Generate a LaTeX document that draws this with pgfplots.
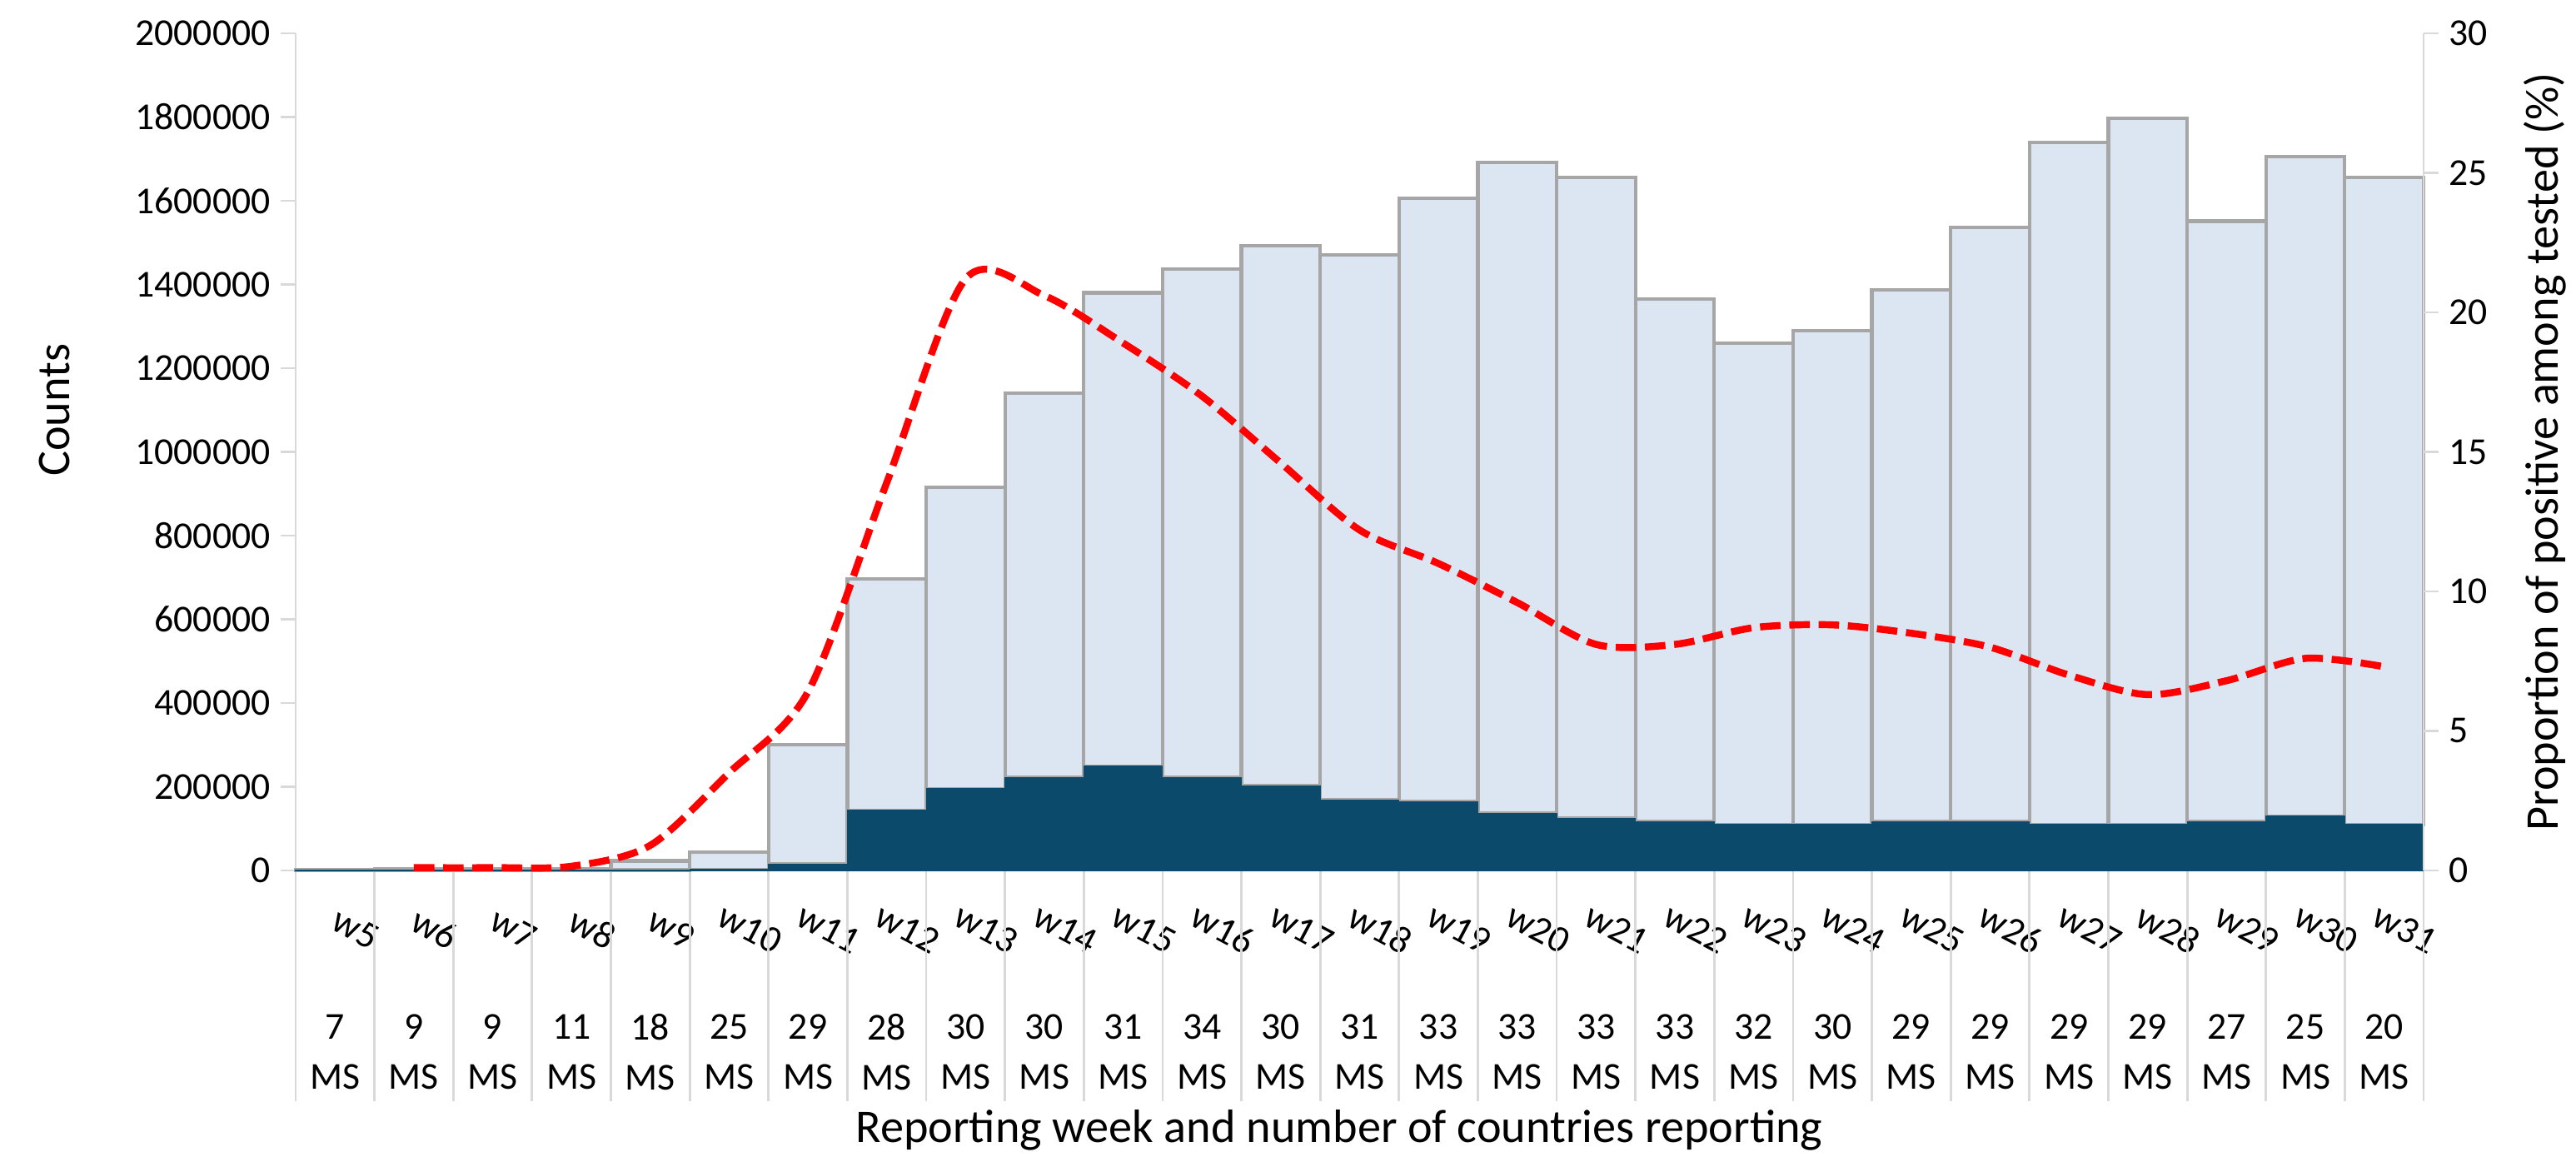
\documentclass[border=0pt]{standalone}
\usepackage{fontspec}
\setmainfont{Carlito}
\usepackage{pgfplots}
\usepackage{pgfplotstable}
\pgfplotsset{compat=1.18}

\definecolor{axisgray}{HTML}{D9D9D9}
\definecolor{bargray}{HTML}{A6A6A6}
\definecolor{lightbar}{HTML}{DCE6F2}
\definecolor{darkbar}{HTML}{0C4A6B}

% x = category index, wk = reporting week, pos = positive, tested = tested, pct = % positive
\pgfplotstableread{
x wk pos tested pct
0 5 300 2500 nan
1 6 300 3000 0.1
2 7 300 3000 0.1
3 8 400 4000 0.15
4 9 1000 23000 0.9
5 10 2000 44000 3.5
6 11 15000 300000 6.4
7 12 144000 697000 13.9
8 13 195000 915000 21.2
9 14 222000 1141000 20.6
10 15 249000 1380000 18.9
11 16 222000 1436000 17.0
12 17 202000 1493000 14.6
13 18 168000 1471000 12.2
14 19 165000 1606000 11.0
15 20 137000 1692000 9.6
16 21 125000 1656000 8.1
17 22 117000 1365000 8.1
18 23 110000 1260000 8.7
19 24 110000 1289000 8.8
20 25 117000 1387000 8.5
21 26 117000 1536000 8.0
22 27 110000 1740000 7.0
23 28 110000 1797000 6.3
24 29 117000 1551000 6.8
25 30 130000 1705000 7.6
26 31 110000 1656000 7.3
}\weekly

\pgfplotsset{
  common/.style={
    at={(3.55cm,3.56cm)}, anchor=south west,
    scale only axis, width=25.55cm, height=10.05cm,
    xmin=-0.5, xmax=26.5, ymin=0,
    axis line style={axisgray, line width=0.8pt},
    tick style={axisgray, line width=0.8pt},
    major tick length=0.18cm, tick align=outside,
    tick label style={font=\fontsize{13}{17}\selectfont, text=black},
    label style={font=\fontsize{16}{19}\selectfont},
    xtick={0,...,26},
    xtick style={draw=none},
    clip=false,
    /pgf/number format/assume math mode=true,
  }
}

\begin{document}
\begin{tikzpicture}
\path[use as bounding box] (0,0) rectangle (30.93,14.01);

\begin{axis}[common,
  ymax=2000000,
  ytick={0,200000,400000,600000,800000,1000000,1200000,1400000,1600000,1800000,2000000},
  scaled y ticks=false,
  yticklabel style={/pgf/number format/fixed, /pgf/number format/1000 sep={}},
  axis x line*=bottom, axis y line*=left,
  ylabel={Counts},
  ylabel style={at={(axis description cs:-0.1135,0.55)}, anchor=center},
  xlabel={Reporting week and number of countries reporting},
  xlabel style={at={(axis description cs:0.4904,0)}, anchor=center, yshift=-3.12cm},
  xticklabels={w5,w6,w7,w8,w9,w10,w11,w12,w13,w14,w15,w16,w17,w18,w19,w20,w21,w22,w23,w24,w25,w26,w27,w28,w29,w30,w31},
  xticklabel style={anchor=center, xshift=0.25cm, yshift=-0.52cm, rotate=-28},
  ybar stacked, bar width=1,
]
\addplot[fill=darkbar, draw=darkbar, line width=0.3pt] table[x=x, y=pos]{\weekly};
\addplot[fill=lightbar, draw=bargray, line width=1.2pt] table[x=x, y expr=\thisrow{tested}-\thisrow{pos}]{\weekly};
\pgfplotsinvokeforeach{-0.5,0.5,...,26.5}{
  \draw[axisgray, line width=0.8pt] (axis cs:#1,0) -- ++(0pt,-2.77cm);
}
\end{axis}

\begin{axis}[common,
  ymax=30, ytick={0,5,10,15,20,25,30},
  axis y line*=right, axis x line*=bottom,
  x axis line style={draw=none},
  ylabel={Proportion of positive among tested (\%)},
  ylabel style={at={(axis description cs:1.0571,0.5)}, anchor=center},
  xticklabels={{7\\MS},{9\\MS},{9\\MS},{11\\MS},{18\\MS},{25\\MS},{29\\MS},{28\\MS},{30\\MS},{30\\MS},{31\\MS},{34\\MS},{30\\MS},{31\\MS},{33\\MS},{33\\MS},{33\\MS},{33\\MS},{32\\MS},{30\\MS},{29\\MS},{29\\MS},{29\\MS},{29\\MS},{27\\MS},{25\\MS},{20\\MS}},
  xticklabel style={align=center, anchor=center, yshift=-2.0cm},
]
\addplot[red, line width=2.4pt, dash pattern=on 7pt off 3pt, smooth] table[x=x, y=pct]{\weekly};
\end{axis}
\end{tikzpicture}
\end{document}
